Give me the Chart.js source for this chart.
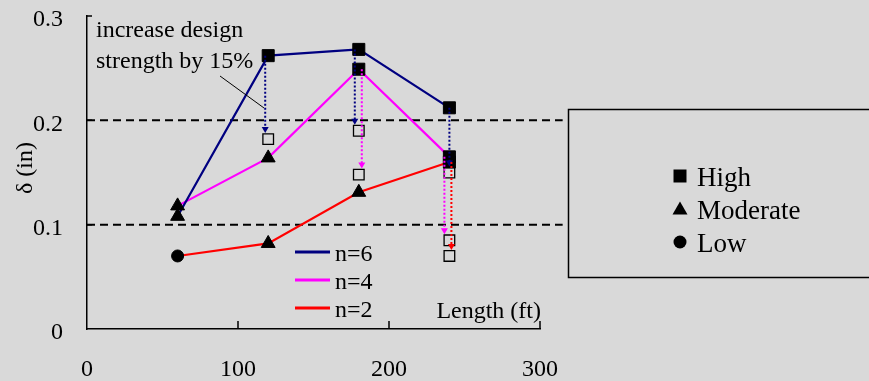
<!DOCTYPE html>
<html>
<head>
<meta charset="utf-8">
<script src="https://cdn.jsdelivr.net/npm/chart.js@4.4.0/dist/chart.umd.min.js"></script>
<style>
  html, body { margin: 0; padding: 0; background: #d9d9d9; }
  canvas { display: block; }
</style>
</head>
<body>
<canvas id="deflectionChart" width="869" height="381"></canvas>
<script>
// span length (ft)
const lengths = [60, 120, 180, 240];

// deflection delta (in) for each n
const n6Delta = [0.108, 0.262, 0.268, 0.212];
const n4Delta = [0.118, 0.164, 0.249, 0.165];
const n2Delta = [0.070, 0.082, 0.131, 0.160];

// hazard level of each point
const n6Level = ['Moderate', 'High', 'High', 'High'];
const n4Level = ['Moderate', 'Moderate', 'High', 'High'];
const n2Level = ['Low', 'Moderate', 'Moderate', 'High'];

// delta after increasing design strength by 15%
const n6Reduced = [null, 0.182, 0.190, 0.150];
const n4Reduced = [null, null, 0.148, 0.085];
const n2Reduced = [null, null, null, 0.070];

const seriesNames = ['n=6', 'n=4', 'n=2'];
const levelNames = ['High', 'Moderate', 'Low'];
const limitValues = [0.1, 0.2];
const limitEnd = 315;
const xTicks = [0, 100, 200, 300];
const yTicks = [0, 0.1, 0.2, 0.3];
const noteLines = ['increase design', 'strength by 15%'];
const xTitle = 'Length (ft)';
const yTitle = 'δ (in)';

const FONT = '"Liberation Serif", "Times New Roman", serif';
const colors = ['#000080', '#ff00ff', '#ff0000'];
const markerStyle = {
  High: { style: 'rect', radius: 8.5 },
  Moderate: { style: 'triangle', radius: 8 },
  Low: { style: 'circle', radius: 6 }
};

const series = [
  { name: seriesNames[0], delta: n6Delta, level: n6Level, reduced: n6Reduced, shift: [0, -3, -4, 0] },
  { name: seriesNames[1], delta: n4Delta, level: n4Level, reduced: n4Reduced, shift: [0, 0, 3, -5] },
  { name: seriesNames[2], delta: n2Delta, level: n2Level, reduced: n2Reduced, shift: [0, 0, 0, 2] }
];

const datasets = [];

// dashed limit lines
limitValues.forEach(v => {
  datasets.push({
    data: [{ x: 0, y: v }, { x: limitEnd, y: v }],
    showLine: true,
    borderColor: '#000',
    borderWidth: 2,
    borderDash: [8, 5],
    pointRadius: 0,
    clip: false,
    order: 6
  });
});

// series lines
series.forEach((s, k) => {
  datasets.push({
    label: s.name,
    data: lengths.map((x, i) => ({ x: x, y: s.delta[i] })),
    showLine: true,
    borderColor: colors[k],
    borderWidth: 2.2,
    pointRadius: 0,
    order: 5
  });
});

// open squares (after strength increase)
series.forEach(s => {
  const pts = [];
  lengths.forEach((x, i) => {
    if (s.reduced[i] !== null) pts.push({ x: x, y: s.reduced[i] });
  });
  datasets.push({
    data: pts,
    pointStyle: 'rect',
    pointRadius: 7.5,
    backgroundColor: 'rgba(0,0,0,0)',
    borderColor: '#000',
    pointBorderWidth: 1.3,
    order: 4
  });
});

// filled markers
series.forEach(s => {
  datasets.push({
    data: lengths.map((x, i) => ({ x: x, y: s.delta[i] })),
    pointStyle: s.level.map(l => markerStyle[l].style),
    pointRadius: s.level.map(l => markerStyle[l].radius),
    backgroundColor: '#000',
    borderColor: '#000',
    pointBorderWidth: 1,
    order: 2
  });
});

function drawMarker(ctx, style, x, y) {
  ctx.beginPath();
  if (style === 'rect') {
    ctx.rect(x - 6.5, y - 6.5, 13, 13);
  } else if (style === 'triangle') {
    ctx.moveTo(x, y - 7.5);
    ctx.lineTo(x + 7.5, y + 5.5);
    ctx.lineTo(x - 7.5, y + 5.5);
    ctx.closePath();
  } else {
    ctx.arc(x, y, 6.5, 0, Math.PI * 2);
  }
  ctx.fill();
}

const extras = {
  id: 'extras',
  beforeDraw(chart) {
    const ctx = chart.ctx;
    ctx.save();
    ctx.fillStyle = '#d9d9d9';
    ctx.fillRect(0, 0, chart.width, chart.height);
    ctx.restore();
  },
  afterDatasetsDraw(chart) {
    const ctx = chart.ctx;
    const xs = chart.scales.x, ys = chart.scales.y;
    ctx.save();
    // arrows
    series.forEach((s, k) => {
      lengths.forEach((len, i) => {
        if (s.reduced[i] === null) return;
        const x = xs.getPixelForValue(len) + s.shift[i];
        const y1 = ys.getPixelForValue(s.delta[i]);
        const tip = ys.getPixelForValue(s.reduced[i]) - 6;
        ctx.strokeStyle = colors[k];
        ctx.fillStyle = colors[k];
        ctx.lineWidth = 2;
        ctx.setLineDash([2, 2]);
        ctx.beginPath();
        ctx.moveTo(x, y1);
        ctx.lineTo(x, tip - 5);
        ctx.stroke();
        ctx.setLineDash([]);
        ctx.beginPath();
        ctx.moveTo(x - 3.5, tip - 6);
        ctx.lineTo(x + 3.5, tip - 6);
        ctx.lineTo(x, tip);
        ctx.closePath();
        ctx.fill();
      });
    });
    ctx.restore();
  },
  afterDraw(chart) {
    const ctx = chart.ctx;
    const area = chart.chartArea;
    const xs = chart.scales.x, ys = chart.scales.y;
    ctx.save();
    ctx.strokeStyle = '#000';
    ctx.fillStyle = '#000';

    // inward tick marks
    ctx.lineWidth = 1.5;
    ctx.beginPath();
    xTicks.slice(1).forEach(v => {
      const px = xs.getPixelForValue(v);
      ctx.moveTo(px, area.bottom);
      ctx.lineTo(px, area.bottom - 8);
    });
    yTicks.slice(1).forEach(v => {
      const py = ys.getPixelForValue(v);
      ctx.moveTo(area.left, py);
      ctx.lineTo(area.left + 5, py);
    });
    ctx.stroke();

    // y title
    ctx.font = '24px ' + FONT;
    ctx.save();
    ctx.translate(26, 168);
    ctx.rotate(-Math.PI / 2);
    ctx.textAlign = 'center';
    ctx.textBaseline = 'middle';
    ctx.fillText(yTitle, 0, 0);
    ctx.restore();

    // x title inside plot
    ctx.textAlign = 'right';
    ctx.textBaseline = 'alphabetic';
    ctx.fillText(xTitle, area.right + 1, area.bottom - 11);

    // note text and leader
    ctx.textAlign = 'left';
    ctx.fillText(noteLines[0], area.left + 9, 37);
    ctx.fillText(noteLines[1], area.left + 9, 68);
    ctx.lineWidth = 1;
    ctx.beginPath();
    ctx.moveTo(220, 76);
    ctx.lineTo(264, 108);
    ctx.stroke();

    // series legend inside plot
    series.forEach((s, k) => {
      const y = 252 + k * 28;
      ctx.strokeStyle = colors[k];
      ctx.lineWidth = 3;
      ctx.beginPath();
      ctx.moveTo(295, y);
      ctx.lineTo(330, y);
      ctx.stroke();
      ctx.fillStyle = '#000';
      ctx.fillText(s.name, 335, y + 9);
    });

    // hazard legend box
    ctx.strokeStyle = '#000';
    ctx.lineWidth = 1.5;
    ctx.strokeRect(568.5, 109.5, 330, 168);
    ctx.font = '27px ' + FONT;
    levelNames.forEach((name, k) => {
      const y = 176 + k * 33;
      drawMarker(ctx, markerStyle[name].style, 680, y);
      ctx.fillText(name, 697, y + 10);
    });
    ctx.restore();
  }
};

new Chart(document.getElementById('deflectionChart'), {
  type: 'scatter',
  data: { datasets: datasets },
  options: {
    responsive: false,
    animation: false,
    devicePixelRatio: 1,
    layout: { padding: { left: 0, top: 16, right: 329, bottom: 0 } },
    plugins: { legend: { display: false }, tooltip: { enabled: false } },
    scales: {
      x: {
        type: 'linear',
        min: 0,
        max: 300,
        afterFit: s => { s.height = 52; s.paddingLeft = 0; s.paddingRight = 0; },
        afterBuildTicks: s => { s.ticks = xTicks.map(v => ({ value: v })); },
        grid: { drawOnChartArea: false, drawTicks: false },
        border: { display: true, color: '#000', width: 1.5 },
        ticks: { font: { family: FONT, size: 24 }, color: '#000', padding: 26, callback: v => String(v) }
      },
      y: {
        min: 0,
        max: 0.3,
        afterFit: s => { s.width = 87; s.paddingTop = 0; s.paddingBottom = 0; },
        afterBuildTicks: s => { s.ticks = yTicks.map(v => ({ value: v })); },
        grid: { drawOnChartArea: false, drawTicks: false },
        border: { display: true, color: '#000', width: 1.5 },
        ticks: { font: { family: FONT, size: 24 }, color: '#000', padding: 24, labelOffset: 4, callback: v => String(v) }
      }
    }
  },
  plugins: [extras]
});
</script>
</body>
</html>
